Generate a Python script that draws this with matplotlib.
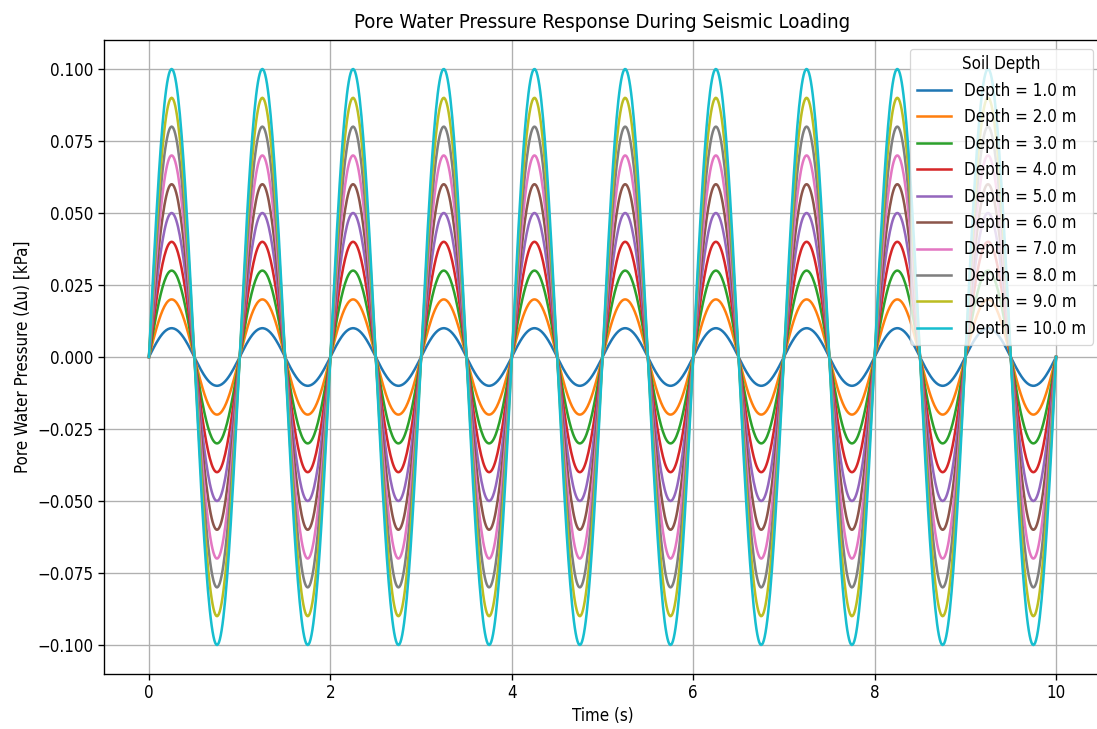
import numpy as np
import matplotlib
matplotlib.use("Agg")
import matplotlib.pyplot as plt

# soil depths (m) and the peak excess pore pressure (kPa)
depths = [1.0, 2.0, 3.0, 4.0, 5.0, 6.0, 7.0, 8.0, 9.0, 10.0]
peak_du = [0.01, 0.02, 0.03, 0.04, 0.05, 0.06, 0.07, 0.08, 0.09, 0.10]
load_freq = 1.0          # Hz, one full cycle per second
t_start, t_end = 0.0, 10.0

time = np.linspace(t_start, t_end, 1000)

# the reference looks like an upscaled, slightly squeezed render
s = 1.33
plt.rcParams.update({
    "font.size": 10 * s,
    "font.stretch": "condensed",
    "lines.linewidth": 1.5 * s,
    "axes.linewidth": 0.8 * s,
    "grid.linewidth": 0.8 * s,
    "xtick.major.size": 3.5 * s,
    "ytick.major.size": 3.5 * s,
    "xtick.major.width": 0.8 * s,
    "ytick.major.width": 0.8 * s,
})

dpi = 91.4
W, H = 1097, 729
fig = plt.figure(figsize=(W / dpi, H / dpi), dpi=dpi)
# right spine falls just past the image edge, as in the reference crop
ax = fig.add_axes([103.6 / W, (H - 673.8) / H, (1101.4 - 103.6) / W,
                   (673.8 - 40.2) / H])

for d, amp in zip(depths, peak_du):
    ax.plot(time, amp * np.sin(2 * np.pi * load_freq * time),
            label=f"Depth = {d} m")

ax.set_title("Pore Water Pressure Response During Seismic Loading", pad=10)
ax.set_xlabel("Time (s)")
ax.set_ylabel("Pore Water Pressure (Δu) [kPa]")
ax.legend(title="Soil Depth", loc="upper right")
ax.grid(True)

fig.savefig("out.png", dpi=dpi)
